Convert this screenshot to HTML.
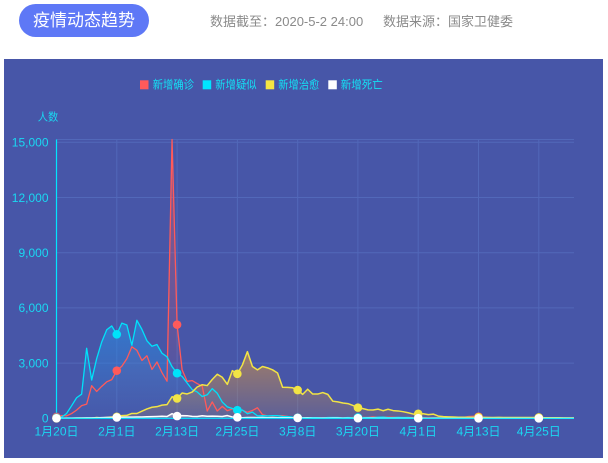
<!DOCTYPE html>
<html><head><meta charset="utf-8">
<style>
html,body{margin:0;padding:0;background:#fff;width:608px;height:463px;overflow:hidden;font-family:"Liberation Sans","Noto Sans CJK SC",sans-serif;}
.pill{position:absolute;left:19px;top:4px;width:130px;height:33px;border-radius:17px;background:#5e78f6;color:#fff;font-size:17px;line-height:33px;text-align:center;font-family:"Liberation Sans","Noto Sans CJK SC",sans-serif;}
.info{position:absolute;top:13px;color:#8a8a8a;font-size:13px;line-height:18px;white-space:nowrap;}
.panel{position:absolute;left:4px;top:59px;width:599px;height:399px;background:#4756a8;}
svg{position:absolute;left:0;top:0;}
</style></head><body>
<div class="pill">疫情动态趋势</div>
<div class="info" style="left:210px">数据截至：2020-5-2 24:00</div>
<div class="info" style="left:383px">数据来源：国家卫健委</div>
<div class="panel"></div>
<svg id="chart" width="608" height="463" viewBox="0 0 608 463" xmlns="http://www.w3.org/2000/svg" font-family="Liberation Sans, Noto Sans CJK SC, sans-serif">
  <defs>
    <linearGradient id="gR" gradientUnits="userSpaceOnUse" x1="0" y1="139.5" x2="0" y2="418.3">
      <stop offset="0" stop-color="#ff5a5a" stop-opacity="0.4"/>
      <stop offset="1" stop-color="#ff5a5a" stop-opacity="0"/>
    </linearGradient>
    <linearGradient id="gC" gradientUnits="userSpaceOnUse" x1="0" y1="320.3" x2="0" y2="418.3">
      <stop offset="0" stop-color="rgb(45,135,220)" stop-opacity="0.7"/>
      <stop offset="1" stop-color="rgb(45,135,220)" stop-opacity="0.05"/>
    </linearGradient>
    <linearGradient id="gY" gradientUnits="userSpaceOnUse" x1="0" y1="351.7" x2="0" y2="418.3">
      <stop offset="0" stop-color="rgb(195,140,80)" stop-opacity="0.72"/>
      <stop offset="1" stop-color="rgb(195,140,80)" stop-opacity="0.18"/>
    </linearGradient>
    <linearGradient id="gW" gradientUnits="userSpaceOnUse" x1="0" y1="413.6" x2="0" y2="418.3">
      <stop offset="0" stop-color="#ffffff" stop-opacity="0.5"/>
      <stop offset="1" stop-color="#ffffff" stop-opacity="0.05"/>
    </linearGradient>
  </defs>

  <!-- grid -->
  <g stroke="#5268b9" stroke-width="1" fill="none">
    <line x1="56.5" y1="139.5" x2="574" y2="139.5"/>
    <line x1="56.5" y1="142.3" x2="574" y2="142.3"/>
    <line x1="56.5" y1="197.5" x2="574" y2="197.5"/>
    <line x1="56.5" y1="252.7" x2="574" y2="252.7"/>
    <line x1="56.5" y1="307.9" x2="574" y2="307.9"/>
    <line x1="56.5" y1="363.1" x2="574" y2="363.1"/>
    <line x1="116.8" y1="139.5" x2="116.8" y2="418.3"/>
    <line x1="177.1" y1="139.5" x2="177.1" y2="418.3"/>
    <line x1="237.4" y1="139.5" x2="237.4" y2="418.3"/>
    <line x1="297.7" y1="139.5" x2="297.7" y2="418.3"/>
    <line x1="357.9" y1="139.5" x2="357.9" y2="418.3"/>
    <line x1="418.2" y1="139.5" x2="418.2" y2="418.3"/>
    <line x1="478.5" y1="139.5" x2="478.5" y2="418.3"/>
    <line x1="538.8" y1="139.5" x2="538.8" y2="418.3"/>
  </g>

  <g id="series"></g>

  <!-- axes -->
  <line x1="56.5" y1="139.5" x2="56.5" y2="418.3" stroke="#00e5ff" stroke-width="1.2"/>
  <line x1="56.5" y1="418.3" x2="574" y2="418.3" stroke="#00e5ff" stroke-width="1.2"/>

  <g id="dots"></g>

  <!-- y labels -->
  <g fill="#1ad8f2" font-size="12" text-anchor="end">
    <text x="48.5" y="146.6">15,000</text>
    <text x="48.5" y="201.8">12,000</text>
    <text x="48.5" y="257">9,000</text>
    <text x="48.5" y="312.2">6,000</text>
    <text x="48.5" y="367.4">3,000</text>
    <text x="48.5" y="422.6">0</text>
  </g>
  <text x="37.7" y="120.6" fill="#1ad8f2" font-size="11" textLength="20.5" lengthAdjust="spacingAndGlyphs">人数</text>

  <!-- x labels -->
  <g fill="#1ad8f2" font-size="12" text-anchor="middle">
    <text x="56.5" y="435.5">1月20日</text>
    <text x="116.8" y="435.5">2月1日</text>
    <text x="177.1" y="435.5">2月13日</text>
    <text x="237.4" y="435.5">2月25日</text>
    <text x="297.7" y="435.5">3月8日</text>
    <text x="357.9" y="435.5">3月20日</text>
    <text x="418.2" y="435.5">4月1日</text>
    <text x="478.5" y="435.5">4月13日</text>
    <text x="538.8" y="435.5">4月25日</text>
  </g>

  <!-- legend -->
  <rect x="140" y="80.3" width="8.5" height="9" fill="#ff5a5a"/>
  <rect x="202.7" y="80.3" width="8.5" height="9" fill="#00e5ff"/>
  <rect x="265.7" y="80.3" width="8.5" height="9" fill="#f5e642"/>
  <rect x="328.3" y="80.3" width="8.5" height="9" fill="#ffffff"/>
  <g fill="#14e0f4" font-size="11.5">
    <text x="152.7" y="88.6" textLength="41.3" lengthAdjust="spacingAndGlyphs">新增确诊</text>
    <text x="215.3" y="88.6" textLength="41.3" lengthAdjust="spacingAndGlyphs">新增疑似</text>
    <text x="278.3" y="88.6" textLength="41" lengthAdjust="spacingAndGlyphs">新增治愈</text>
    <text x="340.7" y="88.6" textLength="42" lengthAdjust="spacingAndGlyphs">新增死亡</text>
  </g>
</svg>
<script>
(function(){
var conf=[77,149,131,259,444,688,769,1771,1459,1737,1982,2102,
2590,2829,3235,3887,3694,3143,3399,2656,3062,2478,2015,15152,5090,2641,2009,2048,1886,1749,394,889,397,648,409,508,406,433,327,427,573,
202,125,119,139,143,99,44,40,19,24,15,8,11,20,16,21,13,34,39,41,46,39,78,47,67,55,54,45,31,48,36,
35,31,19,30,39,32,62,63,42,46,99,108,89,46,46,26,27,16,12,11,30,10,10,12,11,3,6,22,4,12,
2,1];
var susp=[27,60,257,680,1118,1309,3806,2077,3248,4148,4812,5019,
4562,5173,5072,3971,5328,4833,4214,3916,4008,3536,3342,2807,2450,2277,1918,1563,1432,1185,1277,1614,1361,882,620,530,439,452,248,335,132,
141,129,143,143,102,99,60,36,31,33,33,33,17,39,41,45,21,45,27,47,33,42,36,54,66,38,36,52,42,44,22,
37,20,11,23,20,20,23,25,22,43,66,57,30,32,33,23,15,29,17,24,22,12,11,8,3,3,8,8,9,10,
4,1];
var cure=[0,0,0,6,3,11,2,9,43,21,47,72,
85,147,157,262,261,387,510,600,632,716,744,1171,1081,1373,1323,1425,1701,1824,1779,2109,2394,2230,1846,2589,2416,2900,3622,2815,2635,
2815,2742,2635,2461,1690,1680,1660,1535,1300,1580,1318,1318,1400,1300,930,892,833,800,700,580,527,456,450,500,412,490,420,400,360,300,230,
245,250,200,230,120,90,80,70,60,56,50,50,60,50,45,40,50,40,45,45,40,40,40,45,50,35,30,30,30,25,
20,20];
var dead=[3,3,8,8,16,15,24,26,26,38,43,46,
45,57,64,65,73,73,86,89,97,108,97,254,121,143,142,105,98,136,114,118,109,97,150,71,52,29,44,47,35,
42,31,38,31,30,28,27,22,17,22,11,7,13,10,14,13,11,8,3,7,6,9,7,4,6,5,3,5,4,1,1,
6,4,4,3,1,2,0,2,1,3,0,2,0,0,0,0,0,0,0,0,0,0,0,0,0,0,0,0,0,0,
0,0];
var X0=56.5,DX=5.024,Y0=418.3,SY=0.0184;
var NS="http://www.w3.org/2000/svg";
function pts(a){return a.map(function(v,i){return [X0+i*DX,Y0-v*SY];});}
function ln(p){return 'M'+p.map(function(q){return q[0].toFixed(2)+','+q[1].toFixed(2);}).join('L');}
function ar(p){return ln(p)+'L'+p[p.length-1][0].toFixed(2)+','+Y0+'L'+X0+','+Y0+'Z';}
var S=[[conf,'#ff5a5a','url(#gR)',1.3],[susp,'#00e2fa','url(#gC)',1.3],[cure,'#f2e445','url(#gY)',1.5],[dead,'#ffffff','url(#gW)',1.5]];
var g=document.getElementById('series'),gd=document.getElementById('dots');
var P=S.map(function(s){return pts(s[0]);});
S.forEach(function(s,k){var e=document.createElementNS(NS,'path');e.setAttribute('d',ar(P[k]));e.setAttribute('fill',s[2]);g.appendChild(e);});
S.forEach(function(s,k){var e=document.createElementNS(NS,'path');e.setAttribute('d',ln(P[k]));e.setAttribute('fill','none');e.setAttribute('stroke',s[1]);e.setAttribute('stroke-width',s[3]);e.setAttribute('stroke-linejoin','round');g.appendChild(e);});
S.forEach(function(s,k){for(var i=0;i<=96;i+=12){var c=document.createElementNS(NS,'circle');c.setAttribute('cx',P[k][i][0].toFixed(2));c.setAttribute('cy',P[k][i][1].toFixed(2));c.setAttribute('r','4.3');c.setAttribute('fill',s[1]);gd.appendChild(c);}});
})();
</script>
</body></html>
